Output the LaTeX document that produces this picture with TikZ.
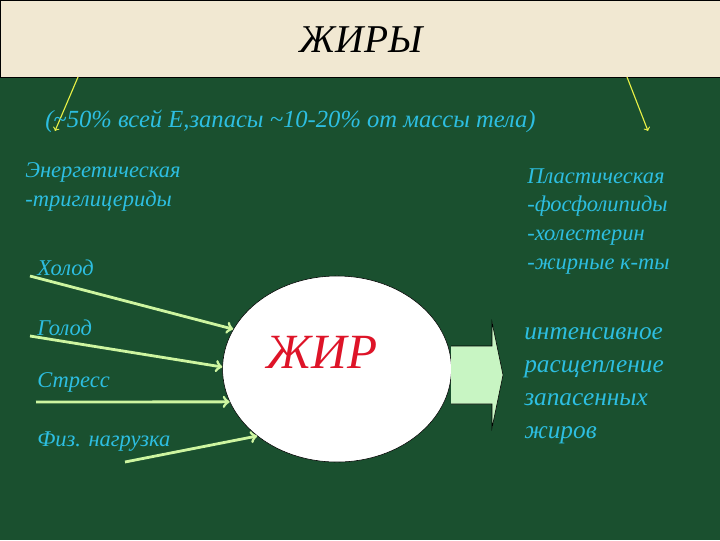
\documentclass[tikz,border=0pt]{standalone}
\usepackage{fontspec}
\setmainfont{Liberation Serif}
\usetikzlibrary{shapes.geometric}

\definecolor{fon}{RGB}{26,80,47}
\definecolor{bezh}{RGB}{241,232,210}
\definecolor{goluboi}{RGB}{45,190,225}
\definecolor{salat}{RGB}{205,245,160}
\definecolor{zhelt}{RGB}{232,240,70}
\definecolor{blok}{RGB}{200,245,195}
\definecolor{krasn}{RGB}{222,20,40}

\begin{document}
\begin{tikzpicture}[x=0.025cm,y=-0.025cm,
    txt/.style={text=goluboi,font=\itshape\fontsize{16}{20.5}\selectfont,inner sep=0pt,anchor=west,align=left},
    strelka/.style={->,salat,line width=2pt}]
        % Фон и заголовок
        \useasboundingbox (0,0) rectangle (720,540);
        \fill[fon] (0,0) rectangle (720,540);
        \draw[fill=bezh] (0,0) rectangle (720,77);
        \node[font=\itshape\fontsize{28}{30}\selectfont] (title) at (361,40) {ЖИРЫ};

        % Желтые стрелки
        \coordinate (ul) at (78,77);
        \coordinate (ur) at (627,77);
        \coordinate (dl) at (55,131);
        \coordinate (dr) at (648,131);
        \draw[->,zhelt,thick] (ul) -- (dl);
        \draw[->,zhelt,thick] (ur) -- (dr);

        % Подписи
        \node[txt,font=\itshape\fontsize{17.5}{20}\selectfont] (sub) at (45,121) {(\textasciitilde 50\% всей Е,запасы \textasciitilde 10-20\% от массы тела)};
        \node[txt,anchor=north west] (energ) at (25,162) {Энергетическая\\-триглицериды};
        \node[txt,anchor=north west] (plast) at (527,168) {Пластическая\\-фосфолипиды\\-холестерин\\-жирные к-ты};
        \node[txt,anchor=north west,font=\itshape\fontsize{18}{23.5}\selectfont] (rasshch) at (524,327) {интенсивное\\расщепление\\запасенных\\жиров};

        % Жир
        \node[ellipse,draw=black,fill=white,minimum width=5.72cm,minimum height=4.65cm,inner sep=0pt] (fat) at (337,369) {};
        \node[text=krasn,font=\itshape\fontsize{35}{38}\selectfont] (fatlbl) at (322,352) {ЖИР};
        \draw[fill=blok] (451,346) -- (492,346) -- (492,322) -- (503,375) -- (492,428) -- (492,404) -- (451,404);

        % Факторы и стрелки к жиру
        \foreach \n/\t/\ty/\sx/\sy/\a in {holod/Холод/268/30/276/159.5, golod/Голод/328/30/336/179,
                                          stress/Стресс/382/36/402/197.5, fiz/Физ. нагрузка/442/125/462/220.5} {
            \node[txt] (\n) at (37,\ty) {\t};
            \coordinate (\n s) at (\sx,\sy);
            \draw[strelka] (\n s) -- (fat.\a);
        }
    \end{tikzpicture}
\end{document}
